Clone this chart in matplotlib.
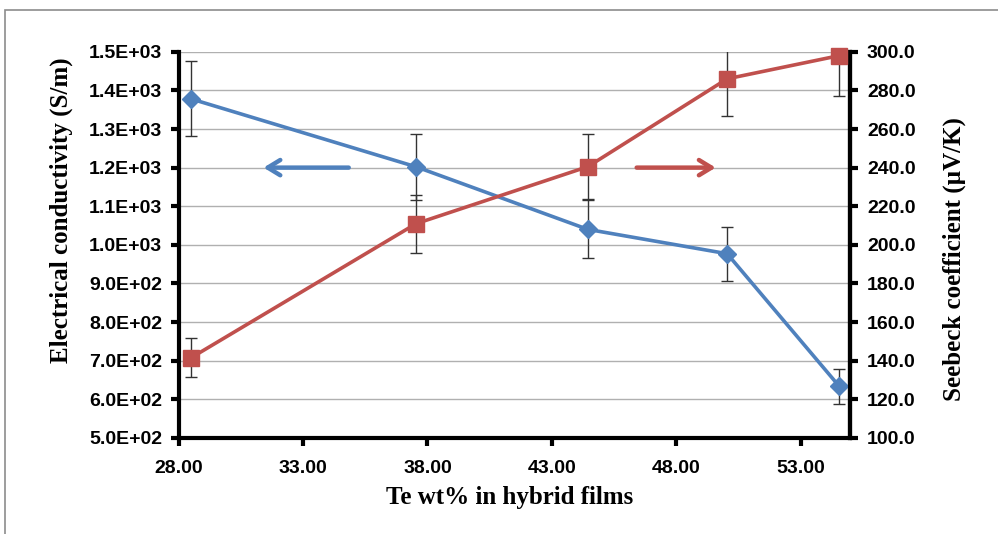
# -*- coding:utf-8 -*-

import matplotlib
matplotlib.use("Agg")
import matplotlib.pyplot as plt
from matplotlib.patches import Rectangle
from matplotlib.ticker import FormatStrFormatter

te_wt = [28.5, 37.55, 44.45, 50.05, 54.55]
conductivity = [1378, 1202, 1040, 977, 634]
conductivity_err = [97, 85, 75, 70, 45]
seebeck = [141.5, 211, 240.5, 286, 298]
seebeck_err = [10, 15, 17, 19.5, 21]

blue = "#4F81BD"
red = "#C0504D"
tick_font = {"family": "Liberation Sans", "weight": "bold", "size": 14}
label_font = {"family": "Liberation Serif", "weight": "bold", "size": 18}

fig = plt.figure(figsize=(9.98, 5.34), dpi=100)
ax1 = fig.add_axes([0.179, 0.180, 0.673, 0.723])
ax2 = ax1.twinx()

# outer frame of the pasted chart
fig.patches.append(Rectangle((0.005, -0.1), 1.2, 1.081, transform=fig.transFigure,
                             fill=False, edgecolor="#8c8c8c", linewidth=1.2))

ax1.errorbar(te_wt, conductivity, yerr=conductivity_err, fmt="none",
             ecolor="#333333", elinewidth=1, capsize=4, capthick=1)
ax1.plot(te_wt, conductivity, color=blue, linewidth=2.6, marker="D",
         markersize=9.5, clip_on=False, zorder=3)

ax2.errorbar(te_wt, seebeck, yerr=seebeck_err, fmt="none",
             ecolor="#333333", elinewidth=1, capsize=4, capthick=1)
ax2.plot(te_wt, seebeck, color=red, linewidth=2.6, marker="s",
         markersize=11, clip_on=False, zorder=3)

ax1.annotate("", xy=(31.3, 1200), xytext=(34.95, 1200),
             arrowprops=dict(arrowstyle="->,head_length=0.9,head_width=0.55",
                             color=blue, lw=3.2))
ax2.annotate("", xy=(49.7, 240), xytext=(46.3, 240),
             arrowprops=dict(arrowstyle="->,head_length=0.9,head_width=0.55",
                             color=red, lw=3.2))

ax1.set_xlim(28, 55)
ax1.set_ylim(500, 1500)
ax2.set_ylim(100, 300)
ax1.set_xticks([28, 33, 38, 43, 48, 53])
ax1.set_yticks(range(500, 1501, 100))
ax2.set_yticks(range(100, 301, 20))
ax1.xaxis.set_major_formatter(FormatStrFormatter("%.2f"))
ax1.yaxis.set_major_formatter(FormatStrFormatter("%.1E"))
ax2.yaxis.set_major_formatter(FormatStrFormatter("%.1f"))

ax1.yaxis.grid(True, color="#b0b0b0", linewidth=1)
ax1.set_axisbelow(True)

for ax in (ax1, ax2):
    ax.spines["top"].set_visible(False)
    for side in ("left", "right", "bottom"):
        ax.spines[side].set_linewidth(3)
    ax.tick_params(direction="out", length=6, width=3, pad=6)
    for lab in ax.get_xticklabels() + ax.get_yticklabels():
        lab.set_fontproperties(tick_font)
ax2.spines["left"].set_visible(False)
ax2.spines["bottom"].set_visible(False)
ax1.tick_params(axis="x", pad=10)

ax1.set_xlabel("Te wt% in hybrid films", fontdict=label_font)
ax1.set_ylabel("Electrical conductivity (S/m)", fontdict=label_font)
ax2.set_ylabel("Seebeck coefficient (µV/K)", fontdict=label_font)
ax1.xaxis.set_label_coords(0.493, -0.125)
ax1.yaxis.set_label_coords(-0.158, 0.59)
ax2.yaxis.set_label_coords(1.137, 0.464)

fig.savefig("out.png", dpi=100)
